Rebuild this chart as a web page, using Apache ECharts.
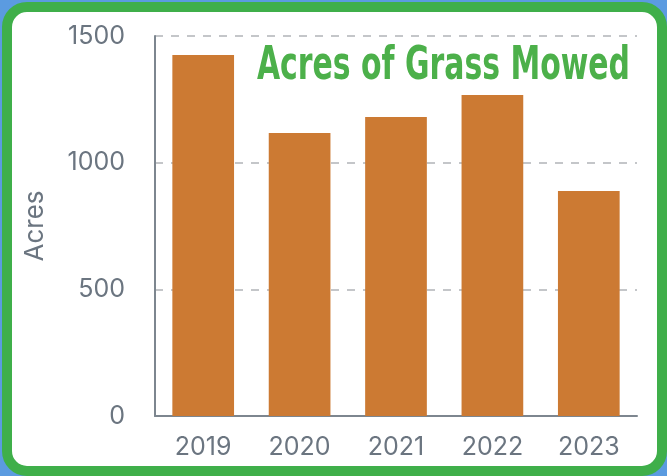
<!DOCTYPE html>
<html>
<head>
<meta charset="utf-8">
<script src="https://cdn.jsdelivr.net/npm/echarts@6/dist/echarts.min.js"></script>
<style>
  html, body { margin: 0; padding: 0; background: #5b9be0; }
  #chart { width: 667px; height: 476px; }
</style>
</head>
<body>
<div id="chart"></div>
<script>
// data
const years = ["2019", "2020", "2021", "2022", "2023"];
const acres = [1425, 1117, 1180, 1267, 888];
const yTicks = [0, 500, 1000, 1500];
const titleText = "Acres of Grass Mowed";

const chart = echarts.init(document.getElementById("chart"));
const option = {
  backgroundColor: "transparent",
  graphic: [
    {
      type: "rect",
      z: -10,
      shape: { x: 7, y: 7, width: 655, height: 464, r: 20 },
      style: { fill: "#ffffff", stroke: "#3faf4a", lineWidth: 10 }
    },
    {
      // condensed title: squeeze a bold sans horizontally
      type: "text",
      x: 630,
      y: 67,
      scaleX: 0.65,
      z: 10,
      style: {
        text: titleText,
        fill: "#4cb04a",
        font: "bold 46px DejaVu Sans, sans-serif",
        textAlign: "right",
        textVerticalAlign: "middle"
      }
    }
  ],
  grid: { left: 155, right: 30, top: 36, bottom: 60 },
  xAxis: {
    type: "category",
    data: years,
    axisLine: { lineStyle: { color: "#7d868f", width: 2 } },
    axisTick: { show: false },
    axisLabel: { color: "#6b7580", fontSize: 25, margin: 19, fontFamily: "Inter, sans-serif" }
  },
  yAxis: {
    type: "value",
    min: 0,
    max: 1500,
    interval: 500,
    name: "Acres",
    nameLocation: "middle",
    nameGap: 107,
    nameTextStyle: { color: "#6b7580", fontSize: 26, fontFamily: "Inter, sans-serif" },
    axisLine: { show: true, lineStyle: { color: "#7d868f", width: 2 } },
    axisTick: { show: false },
    axisLabel: {
      color: "#6b7580",
      fontSize: 25,
      margin: 30,
      fontFamily: "Inter, sans-serif",
      formatter: v => (yTicks.includes(v) ? String(v) : "")
    },
    splitLine: { lineStyle: { color: "#c4c6c9", width: 2, type: [8, 8] } }
  },
  series: [
    {
      type: "bar",
      data: acres,
      barWidth: "64%",
      itemStyle: { color: "#cc7a33" }
    }
  ]
};
chart.setOption(option);
</script>
</body>
</html>
